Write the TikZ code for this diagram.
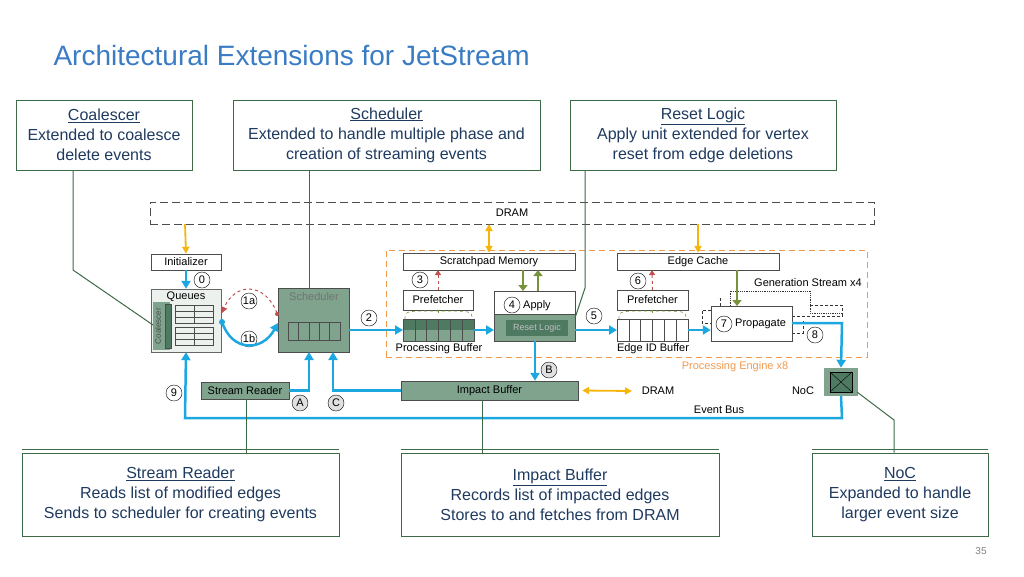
\documentclass[tikz,border=0pt]{standalone}
\usepackage{fontspec}
\setmainfont{Liberation Sans}
\usetikzlibrary{arrows.meta}
\definecolor{ttl}{HTML}{3A7CC4}
\definecolor{bxb}{HTML}{3D6B48}
\definecolor{txt}{HTML}{1F3A5F}
\definecolor{cy}{HTML}{1CA7E0}
\definecolor{org}{HTML}{F5B50A}
\definecolor{gf}{HTML}{7FA38D}
\definecolor{gd}{HTML}{4F7A62}
\definecolor{pe}{HTML}{F09A50}
\definecolor{rd}{HTML}{C0504D}
\definecolor{ga}{HTML}{76923C}
\begin{document}
\begin{tikzpicture}[x=1pt,y=-1pt,
 callout/.style={draw=bxb,line width=1pt,align=center,text=txt,font=\fontsize{16}{20}\selectfont,inner sep=0pt},
 blk/.style={draw=black!70,fill=white,font=\fontsize{11}{13}\selectfont,inner sep=0pt},
 gblk/.style={draw=black!70,fill=gf,font=\fontsize{11}{13}\selectfont,inner sep=0pt},
 num/.style={circle,draw=black,fill=white,inner sep=0pt,minimum size=16pt,font=\fontsize{11}{13}\selectfont},
 numg/.style={num,fill=black!12},
 cyl/.style={draw=cy,line width=2.5pt,-{Triangle[length=8pt,width=9pt]}},
 orl/.style={draw=org,line width=1.8pt,-{Triangle[length=7pt,width=7pt]}},
 gline/.style={draw=bxb,line width=1pt},
 lbl/.style={font=\fontsize{11}{13}\selectfont,inner sep=1pt}]
\useasboundingbox (0,0) rectangle (1024,576);
\node[anchor=west,text=ttl,font=\fontsize{28}{33}\selectfont] (title) at (50,55) {Architectural Extensions for JetStream};
% callouts
\node[callout,minimum width=176pt,minimum height=70pt] (cco) at (104,135) {\underline{Coalescer}\\Extended to coalesce\\delete events};
\node[callout,minimum width=307pt,minimum height=70pt] (csc) at (386.5,135) {\underline{Scheduler}\\Extended to handle multiple phase and\\creation of streaming events};
\node[callout,minimum width=266pt,minimum height=70pt] (crl) at (703,135) {\underline{Reset Logic}\\Apply unit extended for vertex\\reset from edge deletions};
\node[callout,minimum width=317pt,minimum height=83pt] (csr) at (180.5,494.5) {\underline{Stream Reader}\\Reads list of modified edges\\Sends to scheduler for creating events};
\node[callout,minimum width=318pt,minimum height=83pt] (cib) at (560,494.5) {\underline{Impact Buffer}\\Records list of impacted edges\\Stores to and fetches from DRAM};
\node[callout,minimum width=176pt,minimum height=83pt] (cno) at (900,494.5) {\underline{NoC}\\Expanded to handle\\larger event size};
\draw[bxb,line width=1pt] (22,449)--(339,449) (401,449)--(719,449) (812,449)--(988,449);
\node[text=black!50,font=\fontsize{10}{12}\selectfont] (pg) at (981,551) {35};
% DRAM
\node[draw=black!70,dashed,dash pattern=on 8pt off 4pt,minimum width=724pt,minimum height=22pt,inner sep=0pt,font=\fontsize{11}{13}\selectfont] (dram) at (512,213) {DRAM};
% PE box
\node[draw=pe,dashed,dash pattern=on 6pt off 4pt,line width=1pt,minimum width=481pt,minimum height=107pt,inner sep=0pt] (pe) at (626.5,303.5) {};
\node[lbl,text=pe] (pel) at (735,367) {Processing Engine x8};
% Initializer, Queues
\node[blk,minimum width=70pt,minimum height=16pt] (init) at (186,262) {Initializer};
\node[draw=black!60,fill=gf!15,minimum width=70pt,minimum height=63pt,inner sep=0pt] (q) at (186,320.5) {};
\node[lbl] (ql) at (186,297) {Queues};
\node[fill=gf,minimum width=17pt,minimum height=48pt,inner sep=0pt] (coal) at (161.5,326) {};
\node[rotate=90,font=\fontsize{8}{9}\selectfont,text=black!70] (coall) at (158,326) {Coalescer};
\draw[fill=gd,draw=black!70] (165,304) rectangle (171,348);
\foreach \y in {305,327}{\draw[black!70] (175,\y) rectangle (213,\y+18); \draw[black!70] (175,\y+6)--(213,\y+6) (175,\y+12)--(213,\y+12) (194,\y)--(194,\y+18);}
% Scheduler
\node[gblk,minimum width=71pt,minimum height=64pt] (sch) at (313.5,320) {};
\node[text=black!55,font=\fontsize{11}{13}\selectfont] (schl) at (314,297) {Scheduler};
\foreach \i in {0,...,4}{\draw[black!70] (288+\i*10.4,322) rectangle (298.4+\i*10.4,340);}
% Stream reader, Impact buffer
\node[gblk,minimum width=88pt,minimum height=17pt] (sr) at (245,390.5) {Stream Reader};
\node[gblk,minimum width=177pt,minimum height=19pt] (ib) at (489.5,390.5) {Impact Buffer};
% Scratchpad etc
\node[blk,minimum width=172pt,minimum height=17pt] (spm) at (489,261.5) {Scratchpad Memory};
\node[blk,minimum width=70pt,minimum height=20pt] (pf1) at (438,300) {Prefetcher};
\foreach \i in {0,...,5}{\draw[black!70,fill=gd] (403+\i*11.8,319) rectangle (414.8+\i*11.8,341);}
\draw[fill=gf,draw=none] (403,330) rectangle (474,341);
\foreach \i in {0,...,5}{\draw[black!70] (403+\i*11.8,319) rectangle (414.8+\i*11.8,341);}
\node[lbl] (pbl) at (439,349) {Processing Buffer};
\draw[ga,dashed,line width=0.6pt] (405,319) .. controls (405,311) .. (438,311) .. controls (472,311) .. (472,319);
\draw[ga,line width=0.8pt] (438,310)--(438,313);
\node[blk,minimum width=81pt,minimum height=50pt] (app) at (534.5,316) {};
\draw[fill=gf,draw=black!70] (494,314) rectangle (575,341);
\node[fill=gd,text=black!25,minimum width=62pt,minimum height=16pt,inner sep=0pt,font=\fontsize{9}{10}\selectfont] (rl) at (537,328) {Reset Logic};
\node[num] (n4) at (512,305) {4};
\node[lbl,anchor=west] (appl) at (522,306) {Apply};
% Edge side
\node[blk,minimum width=162pt,minimum height=17pt] (ec) at (698,261.5) {Edge Cache};
\node[blk,minimum width=71pt,minimum height=20pt] (pf2) at (652.5,300) {Prefetcher};
\foreach \i in {0,...,5}{\draw[black!70,fill=white] (617+\i*11.8,319) rectangle (628.8+\i*11.8,341);}
\draw[ga,dashed,line width=0.6pt] (619,319) .. controls (619,311) .. (652,311) .. controls (686,311) .. (686,319);
\draw[ga,line width=0.8pt] (652,310)--(652,313);
\node[lbl] (ebl) at (653,349) {Edge ID Buffer};
% generation stream dashed
\draw[black!80,densely dotted,line width=0.8pt] (730,306)--(730,291)--(810,291)--(810,313)--(842,313);
\draw[black!80,densely dashed,line width=0.7pt] (720,306)--(720,298)--(718,298) (711,310)--(702,310)--(702,323)--(711,323);
\draw[black!80,densely dashed,line width=0.7pt] (792,316)--(842,316)--(842,305)--(808,305);
\draw[black!80,densely dashed,line width=0.7pt] (792,333)--(803,333)--(803,321);
\node[blk,minimum width=81pt,minimum height=35pt] (prop) at (751.5,323.5) {};
\node[num] (n7) at (724,324) {7};
\node[lbl,anchor=west] (propl) at (734,324) {Propagate};
\node[lbl] (gsl) at (808,283) {Generation Stream x4};
% NoC
\node[fill=gf,minimum width=34pt,minimum height=28pt,inner sep=0pt] (noc) at (841,382) {};
\node[draw=black,fill=gd,minimum width=22pt,minimum height=20pt,inner sep=0pt] (nocx) at (841,382) {};
\draw[black] (nocx.north west)--(nocx.south east) (nocx.north east)--(nocx.south west);
\node[lbl] (nocl) at (803,391) {NoC};
\node[lbl] (ebus) at (719,410) {Event Bus};
\node[lbl] (dl) at (658,391) {DRAM};
% numbers
\node[num] (n0) at (202,280) {0};
\node[num] (n1a) at (249,301) {1a};
\node[num] (n1b) at (249,339) {1b};
\node[num] (n2) at (369,318) {2};
\node[num] (n3) at (420,280) {3};
\node[num] (n5) at (594,316) {5};
\node[num] (n6) at (638,281) {6};
\node[num] (n8) at (815,335) {8};
\node[num] (n9) at (174,393) {9};
\node[numg] (nA) at (300,403) {A};
\node[numg] (nB) at (549,370) {B};
\node[numg] (nC) at (336,403) {C};
% orange arrows
\draw[orl] (185,224)--(init.north);
\draw[orl,{Triangle[length=7pt,width=7pt]}-{Triangle[length=7pt,width=7pt]}] (489,224)--(spm.north);
\draw[orl] (698,224)--(ec.north);
\coordinate (dle) at (632,391);
\draw[orl,{Triangle[length=7pt,width=7pt]}-{Triangle[length=7pt,width=7pt]}] (ib.east)++(4,0)--(dle);
% cyan
\draw[cyl] (init.south)--(q.north);
\draw[cyl] (sch.east|-0,330)--(403,330);
\draw[cyl] (474,330)--(494,330);
\draw[cyl] (575,330)--(617,330);
\draw[cyl] (688,330)--(prop.west|-0,330);
\draw[cyl] (535,341)--(ib.north-|535,0);
\draw[cyl] (792,323)--(842,323)--(noc.north);
\draw[cyl] (noc.south)--(842,418)--(185,418)--(q.south);
\draw[cyl] (sr.east)--(309,390.5)--(309,352);
\draw[cyl] (ib.west)--(333,390.5)--(333,352);
\fill[cy] (222,322) circle (3pt);
\draw[cyl] (222,322) .. controls (232,352) and (262,352) .. (278,323);
\draw[rd,dashed,line width=1pt,-{Triangle[length=6pt,width=6pt]}] (277,313) .. controls (265,282) and (235,282) .. (222,313);
\fill[rd] (277,314) circle (2pt);
% red dashed prefetch
\draw[rd,dashed,line width=1pt,-{Triangle[length=5pt,width=6pt]}] (pf1.north)--(438,270);
\draw[rd,dashed,line width=1pt,-{Triangle[length=5pt,width=6pt]}] (pf2.north)--(652,270);
% green arrows
\draw[ga,line width=2.5pt,-{Triangle[length=6pt,width=9pt]}] (523,270)--(523,291);
\draw[ga,line width=2.5pt,-{Triangle[length=6pt,width=9pt]}] (538,291)--(538,270);
\draw[ga,line width=2.5pt,-{Triangle[length=6pt,width=9pt]}] (737,270)--(737,306);
% callout lines
\draw[gline] (cco.south-|73,0)--(73,270)--(153,325);
\draw[gline] (csc.south-|309,0)--(309,288);
\draw[gline] (crl.south-|585,0)--(585,288)--(575,318);
\draw[gline] (cno.north-|894,0)--(894,420)--(857,392);
\draw[gline] (csr.north-|246,0)--(246,399);
\draw[gline] (cib.north-|482,0)--(482,400);
\end{tikzpicture}
\end{document}
